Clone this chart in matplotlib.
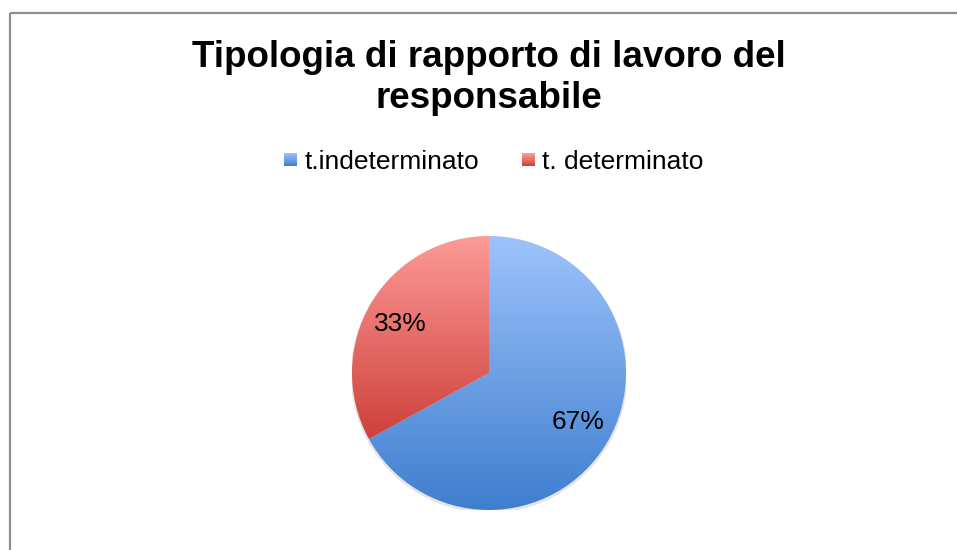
import numpy as np
import matplotlib
matplotlib.use("Agg")
import matplotlib.pyplot as plt
from matplotlib.lines import Line2D
from matplotlib.patches import Rectangle, Circle
from matplotlib.legend_handler import HandlerBase
from matplotlib.colors import to_rgb

plt.rcParams['font.family'] = ['Liberation Sans', 'DejaVu Sans']

# Data
title = "Tipologia di rapporto di lavoro del\nresponsabile"
categories = ["t.indeterminato", "t. determinato"]
shares = [67, 33]
# (top colour, bottom colour) of each slice's vertical gradient
gradients = [("#9dc3fb", "#3f7ecf"), ("#fc9b98", "#cf403b")]

W, H = 957, 550
fig = plt.figure(figsize=(W / 100, H / 100), dpi=100)
fig.patch.set_facecolor("white")

# outer chart frame (left and top edges)
frame_col = "#8e8e8e"
fig.add_artist(Line2D([9.5 / W, 9.5 / W], [0, 1 - 12.5 / H], color=frame_col, lw=1.6,
                      transform=fig.transFigure, solid_capstyle="butt"))
fig.add_artist(Line2D([9.5 / W, 1], [1 - 12.5 / H, 1 - 12.5 / H], color=frame_col, lw=1.6,
                      transform=fig.transFigure, solid_capstyle="butt"))

# pie axes: centre and radius in pixels
cx, cy, r = 489, 373, 137
ax = fig.add_axes([(cx - r) / W, 1 - (cy + r) / H, 2 * r / W, 2 * r / H])


def gradient_img(top, bottom, n=256):
    t = np.linspace(0, 1, n)[:, None]
    a, b = np.array(to_rgb(top)), np.array(to_rgb(bottom))
    return (a * (1 - t) + b * t)[:, None, :]


# soft drop shadow
shadow = Circle((0.0, -0.012), 1.01, facecolor="#000000", alpha=0.10, edgecolor="none", zorder=0)
ax.add_patch(shadow)

wedges, texts, autotexts = ax.pie(
    shares, startangle=92, counterclock=False, radius=1.0,
    autopct=lambda p: f"{p:.0f}%", pctdistance=0.74,
    wedgeprops=dict(facecolor="none", edgecolor="none"),
    textprops=dict(fontsize=19, color="black"),
)
# slices start exactly at 12 o'clock; the labels sit slightly rotated
for w in wedges:
    w.set_theta1(w.theta1 - 2)
    w.set_theta2(w.theta2 - 2)

for w, (top, bottom) in zip(wedges, gradients):
    verts = w.get_patch_transform().transform(w.get_path().vertices)
    x0, y0 = verts.min(axis=0)
    x1, y1 = verts.max(axis=0)
    im = ax.imshow(gradient_img(top, bottom), extent=(x0, x1, y0, y1), origin="upper",
                   aspect="auto", interpolation="bilinear", zorder=1)
    im.set_clip_path(w)

for t in autotexts:
    t.set_zorder(5)

ax.set_xlim(-1, 1)
ax.set_ylim(-1, 1)
ax.set_aspect("equal")
ax.axis("off")


class GradientSquare(HandlerBase):
    def create_artists(self, legend, orig_handle, xdescent, ydescent, width, height,
                       fontsize, trans):
        top, bottom = orig_handle
        side = min(width, height)
        x0 = -xdescent + (width - side) / 2
        y0 = -ydescent + (height - side) / 2
        n = 12
        arts = []
        cols = gradient_img(top, bottom, n)[:, 0, :]
        for i in range(n):
            rect = Rectangle((x0, y0 + side * (n - 1 - i) / n), side, side / n + 0.05,
                             facecolor=cols[i], edgecolor="none", transform=trans)
            arts.append(rect)
        return arts


handles = [tuple(g) for g in gradients]
fig.legend(handles, categories, handler_map={tuple: GradientSquare()},
           loc="center", bbox_to_anchor=(494 / W, 1 - 162 / H), ncol=2, frameon=False,
           fontsize=19, handlelength=0.5, handleheight=0.5, handletextpad=0.28,
           columnspacing=1.6, borderpad=0, borderaxespad=0)

fig.text(489 / W, 1 - 78 / H, title, ha="center", va="center", fontsize=26.5,
         fontweight="bold", linespacing=1.2)

fig.savefig("out.png", dpi=100, facecolor="white")
